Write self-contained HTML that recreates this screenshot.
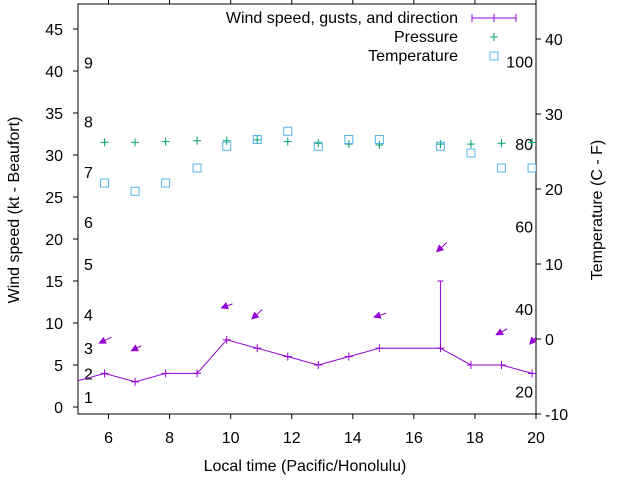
<!DOCTYPE html>
<html><head><meta charset="utf-8"><style>
body{margin:0;background:#fff;}
svg{display:block;font-family:"Liberation Sans",sans-serif;}
</style></head><body>
<svg id="chart" width="640" height="480" viewBox="0 0 640 480">
<rect width="640" height="480" fill="#fff"/>
<g id="axes"></g>
<g id="series"></g>
<g id="legend">
 <text x="458" y="23" text-anchor="end" font-size="16">Wind speed, gusts, and direction</text>
 <g stroke="#9400d3"><line x1="472" y1="18" x2="516" y2="18"/><line x1="472" y1="14" x2="472" y2="22"/><line x1="516" y1="14" x2="516" y2="22"/><line x1="494" y1="14" x2="494" y2="22"/></g>
 <text x="458" y="42" text-anchor="end" font-size="16">Pressure</text>
 <g stroke="#009e73"><line x1="490" y1="37" x2="498" y2="37"/><line x1="494" y1="33" x2="494" y2="41"/></g>
 <text x="458" y="61" text-anchor="end" font-size="16">Temperature</text>
 <rect x="490" y="52" width="8" height="8" fill="none" stroke="#56b4e9"/>
</g>
</svg>
<script>
const hours=[4.87,5.87,6.87,7.87,8.9,9.87,10.87,11.87,12.87,13.87,14.87,16.87,17.87,18.87,19.87];
const windSpeed=[3,4,3,4,4,8,7,6,5,6,7,7,5,5,4];
const gustHours=[16.87];
const gustSpeed=[15];
const pressure=[31.5,31.5,31.5,31.6,31.7,31.7,31.8,31.6,31.4,31.3,31.2,31.3,31.3,31.4,31.5];
const tempHours=[5.87,6.87,7.87,8.9,9.87,10.87,11.87,12.87,13.87,14.87,16.87,17.87,18.87,19.87];
const temperature=[20.8,19.7,20.8,22.8,25.7,26.6,27.7,25.7,26.6,26.6,25.7,24.8,22.8,22.8];
const arrowHours=[5.7,6.75,9.7,10.7,14.7,16.75,18.7,19.8];
const arrowLevel=[7.6,6.7,11.8,10.5,10.7,18.5,8.6,7.5];
const arrowDx=[12,10,11,10,12,10,11,8];
const arrowDy=[-6,-5,-4,-9,-4,-9,-6,-9];
const xTicks=[6,8,10,12,14,16,18,20];
const yTicks=[0,5,10,15,20,25,30,35,40,45];
const y2Ticks=[-10,0,10,20,30,40];
const beaufortLabels=["1","2","3","4","5","6","7","8","9"];
const beaufortLevels=[1.2,4,7,11,17,22,28,34,41];
const fLabels=["20","40","60","80","100"];
const fLevels=[-7,4,15,26,37];

const NS="http://www.w3.org/2000/svg";
const L=78,R=536,T=4,B=414;
const X=h=>L+(h-5)*(R-L)/15;
const Y=v=>407-v*8.4;
const Y2=v=>339-v*7.5;
function mk(tag,attrs,parent){const e=document.createElementNS(NS,tag);for(const k in attrs)e.setAttribute(k,attrs[k]);parent.appendChild(e);return e;}
const ax=document.getElementById('axes'),sr=document.getElementById('series');
const frame=mk('rect',{x:L,y:T,width:R-L,height:B-T,fill:'none',stroke:'#000','stroke-width':1},ax);


xTicks.forEach(t=>{
 const g=mk('g',{},ax);
 
 
 mk('line',{x1:X(t),x2:X(t),y1:B,y2:B+5,stroke:'#000'},g);
 mk('line',{x1:X(t),x2:X(t),y1:T,y2:T-5,stroke:'#000'},g);
 const tx=mk('text',{x:X(t),y:443,'text-anchor':'middle','font-size':16},g);tx.textContent=t;
});
yTicks.forEach(t=>{
 const g=mk('g',{},ax);
 
 
 mk('line',{x1:L,x2:L-5,y1:Y(t),y2:Y(t),stroke:'#000'},g);
 const tx=mk('text',{x:63,y:Y(t)+6,'text-anchor':'end','font-size':16},g);tx.textContent=t;
});
y2Ticks.forEach(t=>{
 const g=mk('g',{},ax);
 
 
 mk('line',{x1:R,x2:R+5,y1:Y2(t),y2:Y2(t),stroke:'#000'},g);
 const tx=mk('text',{x:545,y:Y2(t)+6,'font-size':16},g);tx.textContent=t;
});
beaufortLabels.forEach((s,i)=>{
 const tx=mk('text',{x:84,y:Y(beaufortLevels[i])+6,'font-size':16},ax);tx.textContent=s;
 
 
});
fLabels.forEach((s,i)=>{
 const tx=mk('text',{x:533,y:Y2(fLevels[i])+6,'font-size':16,'text-anchor':'end'},ax);tx.textContent=s;
 
 
});
let t1=mk('text',{x:305,y:471,'text-anchor':'middle','font-size':16},ax);t1.textContent='Local time (Pacific/Honolulu)';


let t2=mk('text',{x:19,y:210,'text-anchor':'middle','font-size':16,transform:'rotate(-90 19 210)'},ax);t2.textContent='Wind speed (kt - Beaufort)';


let t3=mk('text',{x:602,y:210,'text-anchor':'middle','font-size':16,transform:'rotate(-90 602 210)'},ax);t3.textContent='Temperature (C - F)';



mk('clipPath',{id:'clip'},sr).appendChild(document.createElementNS(NS,'rect'));
const cr=sr.querySelector('#clip rect');cr.setAttribute('x',L);cr.setAttribute('y',T);cr.setAttribute('width',R-L);cr.setAttribute('height',B-T);
const cg=mk('g',{'clip-path':'url(#clip)'},sr);
pressure.forEach((p,i)=>{
 const x=X(hours[i]),y=Y(p);
 const g=mk('g',{stroke:'#009e73'},cg);
 
 
 mk('line',{x1:x-4,x2:x+4,y1:y,y2:y},g);mk('line',{x1:x,x2:x,y1:y-4,y2:y+4},g);
});
temperature.forEach((v,i)=>{
 const r=mk('rect',{x:X(tempHours[i])-4,y:Y2(v)-4,width:8,height:8,fill:'none',stroke:'#56b4e9'},cg);
 
 
});
const wl=mk('polyline',{points:hours.map((h,i)=>X(h)+','+Y(windSpeed[i])).join(' '),fill:'none',stroke:'#9400d3'},cg);


hours.forEach((h,i)=>{
 const x=X(h),y=Y(windSpeed[i]);
 const g=mk('g',{stroke:'#9400d3'},cg);
 
 
 mk('line',{x1:x-4,x2:x+4,y1:y,y2:y},g);mk('line',{x1:x,x2:x,y1:y-4,y2:y+4},g);
});
gustHours.forEach((h,i)=>{
 const i0=hours.indexOf(h);
 const g=mk('g',{stroke:'#9400d3'},cg);
 
 
 mk('line',{x1:X(h),x2:X(h),y1:Y(windSpeed[i0]),y2:Y(gustSpeed[i])},g);
 mk('line',{x1:X(h)-3,x2:X(h)+3,y1:Y(gustSpeed[i]),y2:Y(gustSpeed[i])},g);
});
arrowHours.forEach((h,i)=>{
 const x=X(h),y=Y(arrowLevel[i]),dx=arrowDx[i],dy=arrowDy[i];
 const len=Math.hypot(dx,dy),ux=dx/len,uy=dy/len;
 const g=mk('g',{stroke:'#9400d3',fill:'#9400d3'},cg);
 
 
 mk('line',{x1:x,y1:y,x2:x+dx,y2:y+dy},g);
 const bx=x+ux*6,by=y+uy*6,px=-uy*3,py=ux*3;
 mk('polygon',{points:`${x},${y} ${bx+px},${by+py} ${bx-px},${by-py}`},g);
});
</script>
</body></html>
